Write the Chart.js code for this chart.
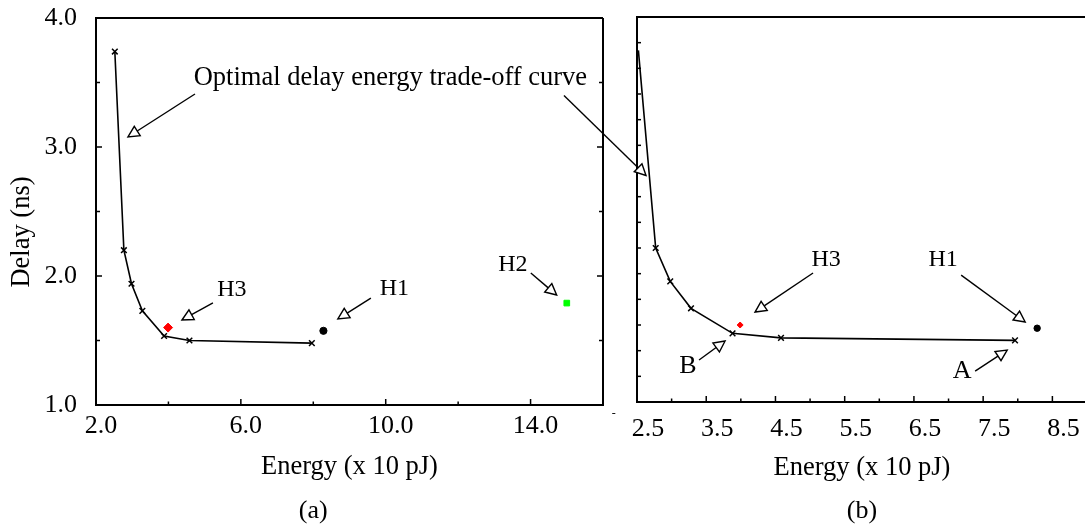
<!DOCTYPE html>
<html>
<head>
<meta charset="utf-8">
<script src="https://cdn.jsdelivr.net/npm/chart.js@4.4.0/dist/chart.umd.min.js"></script>
<style>
  html, body { margin: 0; padding: 0; background: #fff; overflow: hidden; }
  #wrap { position: relative; width: 1085px; height: 527px; overflow: hidden; }
  canvas { position: absolute; left: 0; top: 0; }
</style>
</head>
<body>
<div id="wrap">
  <canvas id="panelA" width="1085" height="527"></canvas>
  <canvas id="panelB" width="1100" height="527"></canvas>
</div>
<script>
// trade-off curve (energy in x10 pJ, delay in ns)
const curveEnergy = [2.52, 2.77, 2.98, 3.28, 3.88, 4.58, 7.96];
const curveDelay = [3.74, 2.20, 1.94, 1.73, 1.535, 1.50, 1.48];

// heuristic designs [energy, delay]
const h1Point = [8.28, 1.575];
const h2Point = [15.0, 1.79];
const h3Point = [3.99, 1.60];

// labelled ticks
const delayLabels = [1, 2, 3, 4];
const energyLabelsA = [2, 6, 10, 14];
const energyLabelsB = [2.5, 3.5, 4.5, 5.5, 6.5, 7.5, 8.5];

const FONT = '"Liberation Serif", "Times New Roman", serif';

const toXY = (xs, ys) => xs.map((x, i) => ({ x: x, y: ys[i] }));
const pt = p => [{ x: p[0], y: p[1] }];
const hasLabel = (list, v) => list.some(l => Math.abs(l - v) < 1e-6);

function arrow(ctx, x0, y0, x1, y1) {
  const len = Math.hypot(x1 - x0, y1 - y0);
  const ux = (x1 - x0) / len, uy = (y1 - y0) / len;
  const hl = 11, hw = 5.5;
  const bx = x1 - ux * hl, by = y1 - uy * hl;
  ctx.beginPath();
  ctx.moveTo(x0, y0);
  ctx.lineTo(bx, by);
  ctx.stroke();
  ctx.beginPath();
  ctx.moveTo(x1, y1);
  ctx.lineTo(bx - uy * hw, by + ux * hw);
  ctx.lineTo(bx + uy * hw, by - ux * hw);
  ctx.closePath();
  ctx.fillStyle = '#fff';
  ctx.fill();
  ctx.stroke();
}

// box + inward tick marks
const frame = {
  id: 'frame',
  afterDatasetsDraw(chart, args, opts) {
    const { ctx, chartArea: a, scales: { x, y } } = chart;
    ctx.save();
    ctx.strokeStyle = '#000';
    ctx.lineWidth = 2;
    ctx.beginPath();
    ctx.moveTo(a.right, a.top);
    ctx.lineTo(a.left, a.top);
    ctx.lineTo(a.left, a.bottom);
    ctx.lineTo(a.right, a.bottom);
    if (opts.right) ctx.lineTo(a.right, a.top);
    ctx.stroke();

    ctx.lineWidth = 1.5;
    x.ticks.forEach(t => {
      const px = x.getPixelForValue(t.value);
      const l = t.label ? 6 : 3.5;
      ctx.beginPath();
      ctx.moveTo(px, a.bottom);
      ctx.lineTo(px, a.bottom - l);
      ctx.stroke();
    });
    y.ticks.forEach(t => {
      const py = y.getPixelForValue(t.value);
      const l = t.label ? 6 : 4;
      ctx.beginPath();
      ctx.moveTo(a.left, py);
      ctx.lineTo(a.left + l, py);
      if (opts.right) {
        ctx.moveTo(a.right, py);
        ctx.lineTo(a.right - l, py);
      }
      ctx.stroke();
    });
    ctx.restore();
  }
};

// text labels and arrows, placed in data coordinates
const notes = {
  id: 'notes',
  afterDraw(chart, args, opts) {
    const { ctx, scales: { x, y } } = chart;
    ctx.save();
    ctx.strokeStyle = '#000';
    ctx.lineWidth = 1.4;
    ctx.textAlign = 'center';
    ctx.textBaseline = 'middle';
    opts.items.forEach(n => {
      if (n.text) {
        ctx.fillStyle = '#000';
        ctx.font = n.size + 'px ' + FONT;
        const px = x.getPixelForValue(n.at[0]), py = y.getPixelForValue(n.at[1]);
        if (n.rotate) {
          ctx.save();
          ctx.translate(px, py);
          ctx.rotate(-Math.PI / 2);
          ctx.fillText(n.text, 0, 0);
          ctx.restore();
        } else {
          ctx.fillText(n.text, px, py);
        }
      }
      if (n.from) {
        arrow(ctx, x.getPixelForValue(n.from[0]), y.getPixelForValue(n.from[1]),
          x.getPixelForValue(n.to[0]), y.getPixelForValue(n.to[1]));
      }
    });
    ctx.restore();
  }
};

const notesA = [
  { text: 'Optimal delay energy trade-off curve', size: 26.5, at: [10.13, 3.537] },
  { from: [4.733, 3.411], to: [2.883, 3.078] },
  { text: 'H3', size: 24, at: [5.754, 1.892], from: [5.229, 1.791], to: [4.374, 1.659] },
  { text: 'H1', size: 24, at: [10.24, 1.899], from: [9.59, 1.829], to: [8.679, 1.667] },
  { text: 'H2', size: 24, at: [13.51, 2.085], from: [14.007, 2.023], to: [14.72, 1.853] },
  { text: 'Delay (ns)', size: 26.5, at: [-0.043, 2.341], rotate: true },
  { text: '(a)', size: 26, at: [8.0, 0.178] },
  { text: '-', size: 12, at: [16.30, 0.93] }
];

const notesB = [
  { from: [1.445, 3.388], to: [2.63, 2.765] },
  { text: 'H3', size: 24, at: [5.231, 2.106], from: [5.043, 2.005], to: [4.205, 1.701] },
  { text: 'H1', size: 24, at: [6.922, 2.106], from: [7.182, 1.989], to: [8.107, 1.623] },
  { text: 'B', size: 26, at: [3.237, 1.278], from: [3.396, 1.327], to: [3.772, 1.475] },
  { text: 'A', size: 26, at: [7.197, 1.239], from: [7.384, 1.241], to: [7.847, 1.405] },
  { text: '(b)', size: 26, at: [5.75, 0.150] }
];

function makePanel(id, p) {
  const tickFont = { family: FONT, size: 26 };
  const titleFont = { family: FONT, size: 26.5 };
  return new Chart(document.getElementById(id), {
    type: 'scatter',
    data: {
      datasets: [
        {
          data: toXY(curveEnergy, curveDelay),
          showLine: true,
          borderColor: '#000',
          borderWidth: 1.6,
          tension: 0,
          pointStyle: 'crossRot',
          pointRadius: p.curveRadius,
          pointBorderWidth: 1.5,
          pointBorderColor: '#000',
          pointBackgroundColor: '#000'
        },
        {
          data: pt(h3Point),
          pointStyle: 'rectRot',
          pointRadius: p.h3Radius,
          pointBackgroundColor: '#ff0000',
          pointBorderColor: '#ff0000',
          pointBorderWidth: 1
        },
        {
          data: pt(h1Point),
          pointStyle: 'circle',
          pointRadius: p.h1Radius,
          pointBackgroundColor: '#000',
          pointBorderColor: '#000',
          pointBorderWidth: 1
        },
        {
          data: pt(h2Point),
          pointStyle: 'rect',
          pointRadius: 4,
          pointBackgroundColor: '#00ff00',
          pointBorderColor: '#00ff00',
          pointBorderWidth: 1
        }
      ]
    },
    options: {
      responsive: false,
      animation: false,
      devicePixelRatio: 1,
      events: [],
      layout: { padding: p.padding },
      plugins: {
        legend: { display: false },
        tooltip: { enabled: false },
        frame: { right: p.rightFrame },
        notes: { items: p.notes }
      },
      scales: {
        x: {
          type: 'linear',
          min: p.xMin,
          max: p.xMax,
          grid: { display: false, drawTicks: false },
          border: { display: false },
          ticks: {
            stepSize: p.xStep,
            autoSkip: false,
            maxRotation: 0,
            padding: p.xPad,
            labelOffset: p.xLabelOffset,
            color: '#000',
            font: tickFont,
            callback: v => hasLabel(p.xLabels, v) ? v.toFixed(1) : ''
          },
          title: {
            display: true,
            text: 'Energy (x 10 pJ)',
            color: '#000',
            font: titleFont,
            padding: { top: 0, bottom: p.titlePad }
          },
          afterFit: s => { s.height = p.xHeight; }
        },
        y: {
          type: 'linear',
          min: 1,
          max: 4,
          grid: { display: false, drawTicks: false },
          border: { display: false },
          ticks: {
            stepSize: p.yStep,
            autoSkip: false,
            display: p.yLabels,
            padding: 19,
            color: '#000',
            font: tickFont,
            callback: v => p.yLabels && hasLabel(delayLabels, v) ? v.toFixed(1) : ''
          },
          afterFit: s => {
            s.width = p.yWidth;
            s.paddingTop = 0;
            s.paddingBottom = 0;
          }
        }
      }
    },
    plugins: [frame, notes]
  });
}

makePanel('panelA', {
  padding: { top: 18, right: 482, bottom: 42, left: 0 },
  xMin: 2, xMax: 16, xStep: 2, xLabels: energyLabelsA, xPad: 6, xLabelOffset: 5,
  xHeight: 80, titlePad: 2, yStep: 0.5, yLabels: true, yWidth: 96, rightFrame: true,
  curveRadius: 4, h3Radius: 4.5, h1Radius: 3.6, notes: notesA
});

makePanel('panelB', {
  padding: { top: 17, right: 13, bottom: 43, left: 0 },
  xMin: 2.5, xMax: 9, xStep: 0.5, xLabels: energyLabelsB, xPad: 12, xLabelOffset: 11,
  xHeight: 82, titlePad: 0, yStep: 0.2, yLabels: false, yWidth: 637, rightFrame: false,
  curveRadius: [0, 4, 4, 4, 4, 4, 4], h3Radius: 3, h1Radius: 3.2, notes: notesB
});
</script>
</body>
</html>
